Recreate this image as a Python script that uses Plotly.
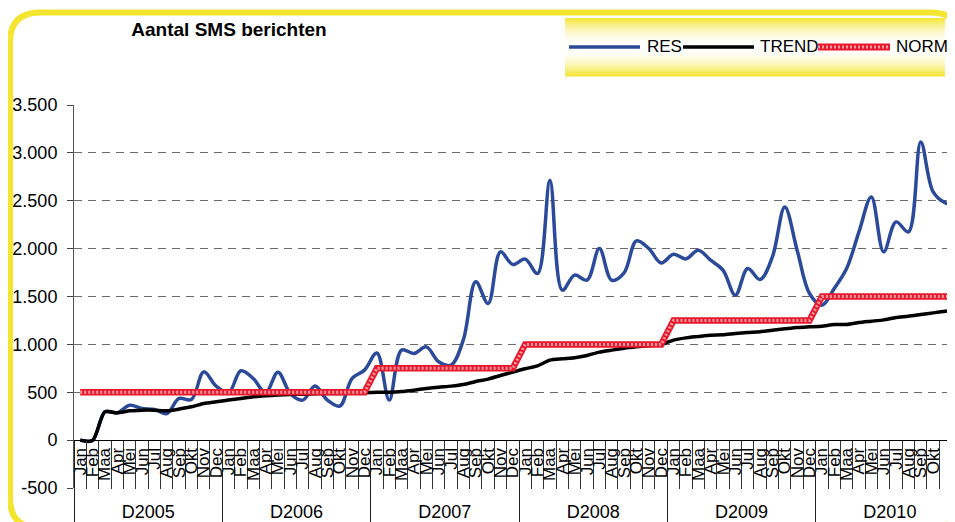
import plotly.graph_objects as go

# ---------------- data ----------------
months = ["Jan", "Feb", "Maa", "Apr", "Mei", "Jun", "Jul", "Aug", "Sep", "Okt", "Nov", "Dec"]
years = ["D2005", "D2006", "D2007", "D2008", "D2009", "D2010"]
y_ticks = [-500, 0, 500, 1000, 1500, 2000, 2500, 3000, 3500]
y_ticktext = ["-500", "0", "500", "1.000", "1.500", "2.000", "2.500", "3.000", "3.500"]

res = [0, -5, 296, 285, 365, 331, 320, 278, 435, 425, 713, 564,
       494, 724, 644, 494, 710, 487, 418, 564, 418, 355, 644, 731,
       910, 418, 940, 905, 974, 818, 783, 1050, 1653, 1427, 1966, 1834,
       1890, 1740, 2714, 1566, 1723, 1670, 2001, 1670, 1747, 2081, 2001, 1851,
       1942, 1893, 1984, 1879, 1775, 1514, 1792, 1677, 1914, 2436, 1984, 1531,
       1409, 1584, 1792, 2175, 2540, 1966, 2279, 2175, 3114, 2592, 2477, 2460]

trend = [0, -5, 296, 285, 306, 313, 313, 306, 324, 348, 383, 400,
         418, 435, 452, 463, 470, 477, 480, 484, 487, 487, 490, 494,
         500, 501, 508, 522, 539, 553, 564, 581, 612, 637, 675, 710,
         745, 776, 835, 849, 860, 884, 919, 940, 960, 974, 985, 999,
         1045, 1068, 1082, 1096, 1100, 1114, 1124, 1131, 1148, 1162, 1176, 1183,
         1190, 1207, 1207, 1228, 1242, 1256, 1281, 1294, 1312, 1329, 1346, 1364]

norm = [500, 500, 500, 500, 500, 500, 500, 500, 500, 500, 500, 500,
        500, 500, 500, 500, 500, 500, 500, 500, 500, 500, 500, 500,
        750, 750, 750, 750, 750, 750, 750, 750, 750, 750, 750, 750,
        1000, 1000, 1000, 1000, 1000, 1000, 1000, 1000, 1000, 1000, 1000, 1000,
        1250, 1250, 1250, 1250, 1250, 1250, 1250, 1250, 1250, 1250, 1250, 1250,
        1500, 1500, 1500, 1500, 1500, 1500, 1500, 1500, 1500, 1500, 1500, 1500]

month_labels = [m for _ in years for m in months]
xi = list(range(len(month_labels)))
n_m = len(months)

# ---------------- geometry (page pixels; the page body has an 8px margin) ----------------
OFF = 8
PAGE_W, PAGE_H = 955, 522
W, H = PAGE_W - OFF, PAGE_H - OFF
PLOT_L, PLOT_T, PLOT_R, PLOT_B = 74, 105, 955, 488   # page coords of the plot area
ML, MT = PLOT_L - OFF, PLOT_T - OFF
MR = W - (PLOT_R - OFF)
MB = H - (PLOT_B - OFF)
PW, PH = W - ML - MR, H - MT - MB
FONT = "Liberation Sans, Arial, sans-serif"
YELLOW = (244, 229, 48)


def px2x(px):
    return (px - OFF - ML) / PW


def px2y(py):
    return (H - MB - (py - OFF)) / PH


x_range = [-0.5, 70.77]
zero_pos = (0 - y_ticks[0]) / (y_ticks[-1] - y_ticks[0])

fig = go.Figure()
fig.add_trace(go.Scatter(x=xi, y=res, mode="lines", name="RES", showlegend=False,
                         line=dict(color="#2C4A9A", width=3.5, shape="spline", smoothing=1.0)))
fig.add_trace(go.Scatter(x=xi, y=trend, mode="lines", name="TREND", showlegend=False,
                         line=dict(color="black", width=3.5, shape="spline", smoothing=0.6)))
fig.add_trace(go.Scatter(x=xi, y=norm, mode="lines", name="NORM", showlegend=False,
                         line=dict(color="#E8192C", width=6.5)))
fig.add_trace(go.Scatter(x=xi, y=norm, mode="lines", name="NORM pattern", showlegend=False,
                         xaxis="x2", hoverinfo="skip",
                         line=dict(color="#F49AA3", width=3, dash="2px,2px")))

shapes = []
annotations = []

# legend box with yellow gradient
lx0, lx1, ly0, ly1 = 565, 945, 18, 76
n_strip = 29
for k in range(n_strip):
    t = (k + 0.5) / n_strip
    a = abs(2 * t - 1) ** 2.0
    col = tuple(int(round(255 * (1 - a) + c * a)) for c in YELLOW)
    ya = ly0 + (ly1 - ly0) * k / n_strip
    yb = ly0 + (ly1 - ly0) * (k + 1) / n_strip + 0.6
    shapes.append(dict(type="rect", xref="paper", yref="paper", layer="above",
                       x0=px2x(lx0), x1=px2x(lx1), y0=px2y(ya), y1=px2y(yb),
                       line=dict(width=0), fillcolor="rgb(%d,%d,%d)" % col))

leg_y = 47
legend_items = [
    ("RES", 569, 640, 645, [dict(color="#2C4A9A", width=3.5)]),
    ("TREND", 683, 754, 758, [dict(color="black", width=3.5)]),
    ("NORM", 818, 890, 894, [dict(color="#E8192C", width=7),
                             dict(color="#F49AA3", width=3, dash="2px,2px")]),
]
for name, x0, x1, tx, lines in legend_items:
    for ln in lines:
        shapes.append(dict(type="line", xref="paper", yref="paper", layer="above",
                           x0=px2x(x0), x1=px2x(x1), y0=px2y(leg_y), y1=px2y(leg_y), line=ln))
    annotations.append(dict(text=name, xref="paper", yref="paper", x=px2x(tx), y=px2y(leg_y),
                            xanchor="left", yanchor="middle", showarrow=False,
                            font=dict(family=FONT, size=17, color="black")))

# yellow rounded frame (right and bottom sides lie just past the window edge)
L, T, R, B, r = 10, 12.5, 961, 528, 30


def P(px, py):
    return "%.5f,%.5f" % (px2x(px), px2y(py))


frame = ("M %s L %s Q %s %s L %s Q %s %s L %s Q %s %s L %s Q %s %s Z" % (
    P(L + r, T), P(R - r, T), P(R, T), P(R, T + r), P(R, B - r), P(R, B), P(R - r, B),
    P(L + r, B), P(L, B), P(L, B - r), P(L, T + r), P(L, T), P(L + r, T)))
shapes.append(dict(type="path", path=frame, xref="paper", yref="paper", layer="above",
                   line=dict(color="rgb(%d,%d,%d)" % YELLOW, width=6)))

year_centers = [n_m * k + (n_m - 1) / 2 for k in range(len(years))]
year_bounds = [n_m * k - 0.5 for k in range(len(years) + 1)]
month_bounds = [i - 0.5 for i in range(len(xi) + 1)]

fig.update_layout(
    width=W, height=H,
    margin=dict(l=ML, r=MR, t=MT, b=MB, autoexpand=False),
    paper_bgcolor="white", plot_bgcolor="white",
    font=dict(family=FONT, color="black"),
    title=dict(text="<b>Aantal SMS berichten</b>", x=(229 - OFF) / W, y=1 - (29 - OFF) / H,
               xanchor="center", yanchor="middle", xref="container", yref="container",
               font=dict(family=FONT, size=19, color="black")),
    showlegend=False,
    xaxis=dict(range=x_range, anchor="free", position=zero_pos,
               tickmode="array", tickvals=xi, ticktext=month_labels, tickangle=-90,
               ticks="", showline=True, linecolor="black", linewidth=1,
               showgrid=False, zeroline=False, automargin=False,
               tickfont=dict(family=FONT, size=17, color="black"),
               minor=dict(tickmode="array", tickvals=month_bounds, ticks="outside",
                          ticklen=48, tickcolor="#333333", tickwidth=1, showgrid=False)),
    xaxis2=dict(range=x_range, overlaying="x", anchor="free", position=zero_pos, side="bottom",
                tickmode="array", tickvals=year_centers, ticktext=years, tickangle=0,
                ticks="", showline=False, showgrid=False, zeroline=False, automargin=False,
                ticklabelstandoff=59,
                tickfont=dict(family=FONT, size=18, color="black"),
                minor=dict(tickmode="array", tickvals=year_bounds, ticks="outside",
                           ticklen=90, tickcolor="#222222", tickwidth=1, showgrid=False)),
    yaxis=dict(range=[y_ticks[0], y_ticks[-1]], tickmode="array", tickvals=y_ticks,
               ticktext=y_ticktext, ticks="outside", ticklen=6, tickcolor="#444444",
               showline=True, linecolor="#555555", linewidth=1,
               showgrid=True, gridcolor="#6a6a6a", griddash="8px,6px", gridwidth=1,
               zeroline=False, automargin=False, ticklabelstandoff=6,
               tickfont=dict(family=FONT, size=18, color="black")),
    shapes=shapes, annotations=annotations,
)

fig.write_html("out.html")
